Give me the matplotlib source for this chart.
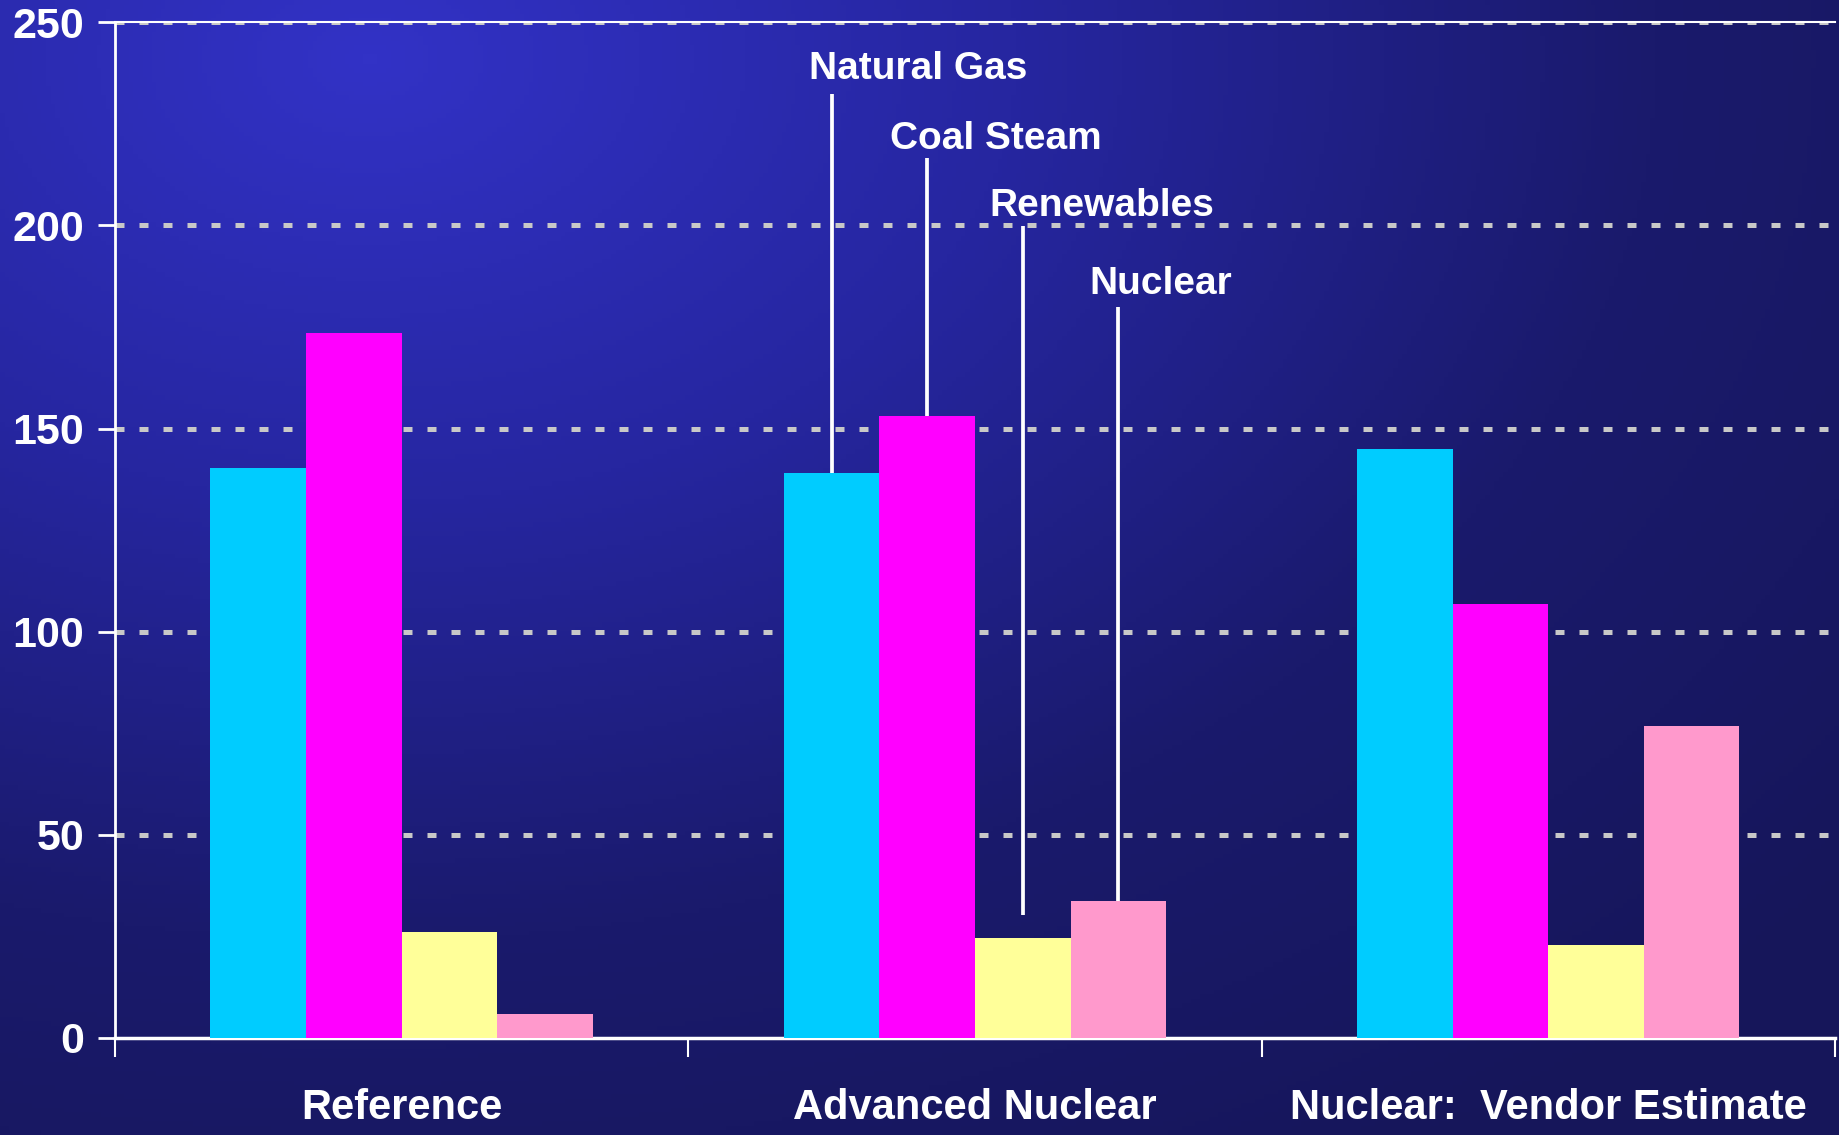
import matplotlib.pyplot as plt
import numpy as np
from matplotlib.colors import LinearSegmentedColormap

plt.rcParams['font.family'] = ['Liberation Sans', 'DejaVu Sans']
plt.rcParams['font.weight'] = 'bold'

# data
scenarios = ['Reference', 'Advanced Nuclear', 'Nuclear:  Vendor Estimate']
series = ['Natural Gas', 'Coal Steam', 'Renewables', 'Nuclear']
natural_gas = [140.3, 139.0, 145.0]
coal_steam = [173.5, 153.1, 106.8]
renewables = [26.2, 24.5, 22.8]
nuclear = [5.8, 33.6, 76.7]
values = [natural_gas, coal_steam, renewables, nuclear]
colors = ['#00CCFF', '#FF00FF', '#FFFF99', '#FF99CC']

# callout labels (on the Advanced Nuclear group)
label_y = [238.6, 221.2, 204.8, 185.5]
line_top = [232.4, 216.6, 199.8, 179.9]
line_bottom = [139.0, 153.1, 30.2, 33.6]
label_shift = [-0.040, -0.064, -0.058, -0.051]  # text left edge relative to its line

fig = plt.figure(figsize=(18.39, 11.35), dpi=100)

# background gradient
bg = fig.add_axes([0, 0, 1, 1])
bg.set_axis_off()
xx, yy = np.meshgrid(np.linspace(0, 1, 400), np.linspace(1, 0, 250))
d = np.sqrt(((xx - 0.2) * 1.0) ** 2 + ((yy - 0.95) * 0.9) ** 2)
t = np.clip(d / 1.05, 0, 1)
cmap = LinearSegmentedColormap.from_list('bg', ['#3232C6', '#2626A0', '#1A1A6C', '#16165A'])
bg.imshow(t, cmap=cmap, aspect='auto', extent=[0, 1, 0, 1], vmin=0, vmax=1)
bg.set_xlim(0, 1)
bg.set_ylim(0, 1)

ax = fig.add_axes([0.0625, 0.0855, 0.9353, 0.8949])
ax.patch.set_alpha(0)

n = len(series)
width = 1 / 6
x = np.arange(len(scenarios))
for i, (vals, c) in enumerate(zip(values, colors)):
    ax.bar(x + (i - (n - 1) / 2) * width, vals, width, color=c, zorder=3)

ax.set_xlim(-0.5, 2.5)
ax.set_ylim(0, 250)
ax.set_yticks([0, 50, 100, 150, 200, 250])
ax.set_xticks([-0.5, 0.5, 1.5, 2.5])
ax.set_xticklabels([])
ax.set_xticks(x, minor=True)
ax.set_xticklabels(scenarios, minor=True)
ax.tick_params(axis='x', which='minor', length=0, pad=36, labelsize=30, labelcolor='white')
ax.tick_params(axis='x', which='major', length=14, width=1.5, color='white', direction='out')
ax.tick_params(axis='y', length=12, width=2, color='white', labelsize=31, labelcolor='white', pad=10)
for lbl in ax.get_yticklabels() + ax.get_xticklabels(minor=True):
    lbl.set_fontweight('bold')

ax.yaxis.grid(True, color='#C8C8C8', linewidth=3.6, linestyle=(0, (1.8, 3.0)), zorder=1)
ax.yaxis.get_gridlines()[0].set_visible(False)
ax.set_axisbelow(True)
for s in ['left', 'top', 'bottom']:
    ax.spines[s].set_color('white')
ax.spines['left'].set_linewidth(2)
ax.spines['top'].set_linewidth(1.5)
ax.spines['bottom'].set_linewidth(2.5)
ax.spines['right'].set_visible(False)

# callout lines and labels
for i, name in enumerate(series):
    bx = 1 + (i - (n - 1) / 2) * width
    ax.plot([bx, bx], [line_bottom[i], line_top[i]], color='white', linewidth=2.7, zorder=2,
            solid_capstyle='butt')
    ax.text(bx + label_shift[i], label_y[i], name, color='white', fontsize=28, fontweight='bold',
            ha='left', va='center', zorder=4)

fig.savefig('out.png', dpi=100)
